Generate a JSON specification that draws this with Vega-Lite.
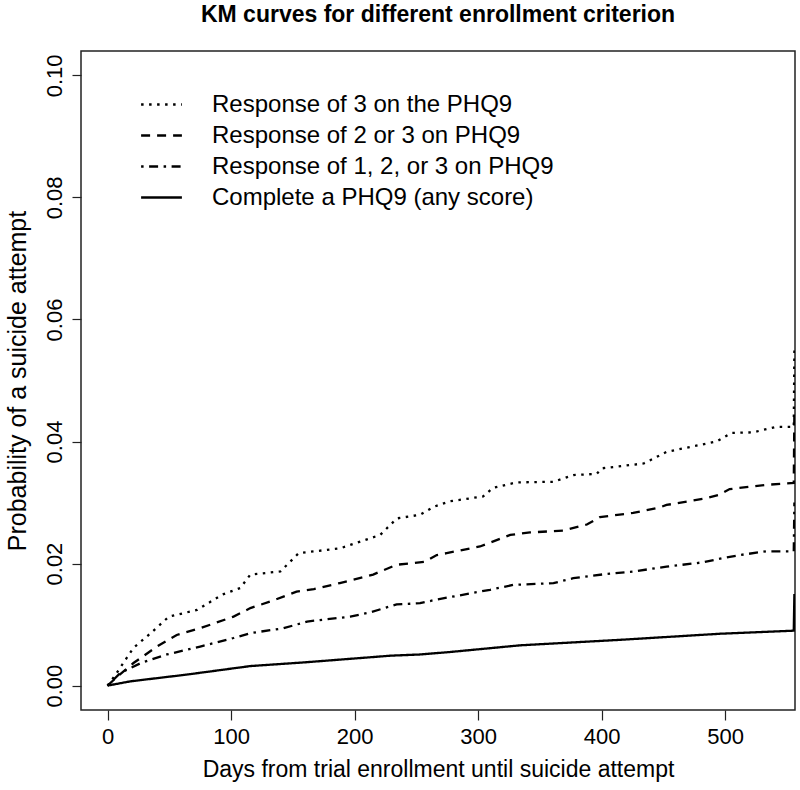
{
  "$schema": "https://vega.github.io/schema/vega-lite/v6.json",
  "width": 714,
  "height": 659,
  "autosize": {"type": "none"},
  "padding": {"left": 81, "top": 51, "right": 5, "bottom": 80},
  "background": "white",
  "title": {
    "text": "KM curves for different enrollment criterion",
    "fontSize": 23,
    "fontWeight": "bold",
    "font": "Liberation Sans",
    "anchor": "middle",
    "frame": "group",
    "offset": 24,
    "color": "black"
  },
  "config": {
    "view": {"stroke": "#222222", "strokeWidth": 1.5},
    "font": "Liberation Sans",
    "axis": {
      "grid": false,
      "domain": false,
      "tickColor": "#222222",
      "tickWidth": 1.2,
      "labelColor": "black",
      "titleColor": "black",
      "labelFont": "Liberation Sans",
      "titleFont": "Liberation Sans",
      "titleFontWeight": "normal"
    }
  },
  "data": {
    "values": [
      {"day": 0, "p": 0, "criterion": "Response of 3 on the PHQ9"},
      {"day": 6.5, "p": 0.0018, "criterion": "Response of 3 on the PHQ9"},
      {"day": 21, "p": 0.0062, "criterion": "Response of 3 on the PHQ9"},
      {"day": 35, "p": 0.0086, "criterion": "Response of 3 on the PHQ9"},
      {"day": 49.6, "p": 0.0113, "criterion": "Response of 3 on the PHQ9"},
      {"day": 72.5, "p": 0.0124, "criterion": "Response of 3 on the PHQ9"},
      {"day": 92.7, "p": 0.0149, "criterion": "Response of 3 on the PHQ9"},
      {"day": 107.5, "p": 0.016, "criterion": "Response of 3 on the PHQ9"},
      {"day": 115.6, "p": 0.0182, "criterion": "Response of 3 on the PHQ9"},
      {"day": 139.9, "p": 0.0187, "criterion": "Response of 3 on the PHQ9"},
      {"day": 154.7, "p": 0.0217, "criterion": "Response of 3 on the PHQ9"},
      {"day": 188.4, "p": 0.0225, "criterion": "Response of 3 on the PHQ9"},
      {"day": 220.7, "p": 0.0247, "criterion": "Response of 3 on the PHQ9"},
      {"day": 234.2, "p": 0.0274, "criterion": "Response of 3 on the PHQ9"},
      {"day": 253, "p": 0.028, "criterion": "Response of 3 on the PHQ9"},
      {"day": 264, "p": 0.0293, "criterion": "Response of 3 on the PHQ9"},
      {"day": 277, "p": 0.0302, "criterion": "Response of 3 on the PHQ9"},
      {"day": 304, "p": 0.031, "criterion": "Response of 3 on the PHQ9"},
      {"day": 312, "p": 0.0324, "criterion": "Response of 3 on the PHQ9"},
      {"day": 331, "p": 0.0333, "criterion": "Response of 3 on the PHQ9"},
      {"day": 361, "p": 0.0334, "criterion": "Response of 3 on the PHQ9"},
      {"day": 377, "p": 0.0345, "criterion": "Response of 3 on the PHQ9"},
      {"day": 396, "p": 0.0347, "criterion": "Response of 3 on the PHQ9"},
      {"day": 400, "p": 0.0356, "criterion": "Response of 3 on the PHQ9"},
      {"day": 434, "p": 0.0364, "criterion": "Response of 3 on the PHQ9"},
      {"day": 452.5, "p": 0.0383, "criterion": "Response of 3 on the PHQ9"},
      {"day": 493, "p": 0.04, "criterion": "Response of 3 on the PHQ9"},
      {"day": 505, "p": 0.0414, "criterion": "Response of 3 on the PHQ9"},
      {"day": 522.5, "p": 0.0415, "criterion": "Response of 3 on the PHQ9"},
      {"day": 541, "p": 0.0424, "criterion": "Response of 3 on the PHQ9"},
      {"day": 555.5, "p": 0.0424, "criterion": "Response of 3 on the PHQ9"},
      {"day": 556, "p": 0.055, "criterion": "Response of 3 on the PHQ9"},

      {"day": 0, "p": 0, "criterion": "Response of 2 or 3 on PHQ9"},
      {"day": 8, "p": 0.0015, "criterion": "Response of 2 or 3 on PHQ9"},
      {"day": 21, "p": 0.0037, "criterion": "Response of 2 or 3 on PHQ9"},
      {"day": 40, "p": 0.0064, "criterion": "Response of 2 or 3 on PHQ9"},
      {"day": 56, "p": 0.0083, "criterion": "Response of 2 or 3 on PHQ9"},
      {"day": 75, "p": 0.0094, "criterion": "Response of 2 or 3 on PHQ9"},
      {"day": 102, "p": 0.0113, "criterion": "Response of 2 or 3 on PHQ9"},
      {"day": 115.6, "p": 0.0127, "criterion": "Response of 2 or 3 on PHQ9"},
      {"day": 132, "p": 0.0138, "criterion": "Response of 2 or 3 on PHQ9"},
      {"day": 153, "p": 0.0154, "criterion": "Response of 2 or 3 on PHQ9"},
      {"day": 167, "p": 0.0158, "criterion": "Response of 2 or 3 on PHQ9"},
      {"day": 188, "p": 0.0168, "criterion": "Response of 2 or 3 on PHQ9"},
      {"day": 215, "p": 0.0182, "criterion": "Response of 2 or 3 on PHQ9"},
      {"day": 234, "p": 0.0198, "criterion": "Response of 2 or 3 on PHQ9"},
      {"day": 257, "p": 0.0203, "criterion": "Response of 2 or 3 on PHQ9"},
      {"day": 266.5, "p": 0.0214, "criterion": "Response of 2 or 3 on PHQ9"},
      {"day": 274.5, "p": 0.0217, "criterion": "Response of 2 or 3 on PHQ9"},
      {"day": 301.5, "p": 0.0228, "criterion": "Response of 2 or 3 on PHQ9"},
      {"day": 326, "p": 0.0247, "criterion": "Response of 2 or 3 on PHQ9"},
      {"day": 342, "p": 0.0251, "criterion": "Response of 2 or 3 on PHQ9"},
      {"day": 369, "p": 0.0254, "criterion": "Response of 2 or 3 on PHQ9"},
      {"day": 388, "p": 0.0264, "criterion": "Response of 2 or 3 on PHQ9"},
      {"day": 398.5, "p": 0.0276, "criterion": "Response of 2 or 3 on PHQ9"},
      {"day": 425.5, "p": 0.0283, "criterion": "Response of 2 or 3 on PHQ9"},
      {"day": 447, "p": 0.0292, "criterion": "Response of 2 or 3 on PHQ9"},
      {"day": 452.5, "p": 0.0296, "criterion": "Response of 2 or 3 on PHQ9"},
      {"day": 482, "p": 0.0306, "criterion": "Response of 2 or 3 on PHQ9"},
      {"day": 495.6, "p": 0.0313, "criterion": "Response of 2 or 3 on PHQ9"},
      {"day": 503.6, "p": 0.0322, "criterion": "Response of 2 or 3 on PHQ9"},
      {"day": 533, "p": 0.0329, "criterion": "Response of 2 or 3 on PHQ9"},
      {"day": 555.5, "p": 0.0332, "criterion": "Response of 2 or 3 on PHQ9"},
      {"day": 556, "p": 0.045, "criterion": "Response of 2 or 3 on PHQ9"},

      {"day": 0, "p": 0, "criterion": "Response of 1, 2, or 3 on PHQ9"},
      {"day": 10.5, "p": 0.0021, "criterion": "Response of 1, 2, or 3 on PHQ9"},
      {"day": 27, "p": 0.0037, "criterion": "Response of 1, 2, or 3 on PHQ9"},
      {"day": 48, "p": 0.0051, "criterion": "Response of 1, 2, or 3 on PHQ9"},
      {"day": 75, "p": 0.0064, "criterion": "Response of 1, 2, or 3 on PHQ9"},
      {"day": 102, "p": 0.0078, "criterion": "Response of 1, 2, or 3 on PHQ9"},
      {"day": 115.6, "p": 0.0086, "criterion": "Response of 1, 2, or 3 on PHQ9"},
      {"day": 142.5, "p": 0.0094, "criterion": "Response of 1, 2, or 3 on PHQ9"},
      {"day": 161.5, "p": 0.0105, "criterion": "Response of 1, 2, or 3 on PHQ9"},
      {"day": 196.5, "p": 0.0113, "criterion": "Response of 1, 2, or 3 on PHQ9"},
      {"day": 212.6, "p": 0.012, "criterion": "Response of 1, 2, or 3 on PHQ9"},
      {"day": 234, "p": 0.0133, "criterion": "Response of 1, 2, or 3 on PHQ9"},
      {"day": 253, "p": 0.0135, "criterion": "Response of 1, 2, or 3 on PHQ9"},
      {"day": 266.5, "p": 0.0141, "criterion": "Response of 1, 2, or 3 on PHQ9"},
      {"day": 309.6, "p": 0.0157, "criterion": "Response of 1, 2, or 3 on PHQ9"},
      {"day": 328.5, "p": 0.0165, "criterion": "Response of 1, 2, or 3 on PHQ9"},
      {"day": 361, "p": 0.0168, "criterion": "Response of 1, 2, or 3 on PHQ9"},
      {"day": 377, "p": 0.0176, "criterion": "Response of 1, 2, or 3 on PHQ9"},
      {"day": 404, "p": 0.0183, "criterion": "Response of 1, 2, or 3 on PHQ9"},
      {"day": 425.5, "p": 0.0187, "criterion": "Response of 1, 2, or 3 on PHQ9"},
      {"day": 452.5, "p": 0.0195, "criterion": "Response of 1, 2, or 3 on PHQ9"},
      {"day": 482, "p": 0.0202, "criterion": "Response of 1, 2, or 3 on PHQ9"},
      {"day": 498, "p": 0.0209, "criterion": "Response of 1, 2, or 3 on PHQ9"},
      {"day": 512, "p": 0.0214, "criterion": "Response of 1, 2, or 3 on PHQ9"},
      {"day": 533, "p": 0.022, "criterion": "Response of 1, 2, or 3 on PHQ9"},
      {"day": 555.5, "p": 0.022, "criterion": "Response of 1, 2, or 3 on PHQ9"},
      {"day": 556, "p": 0.03, "criterion": "Response of 1, 2, or 3 on PHQ9"},

      {"day": 0, "p": 0, "criterion": "Complete a PHQ9 (any score)"},
      {"day": 18.6, "p": 0.0007, "criterion": "Complete a PHQ9 (any score)"},
      {"day": 64, "p": 0.0018, "criterion": "Complete a PHQ9 (any score)"},
      {"day": 115.6, "p": 0.0032, "criterion": "Complete a PHQ9 (any score)"},
      {"day": 159, "p": 0.0038, "criterion": "Complete a PHQ9 (any score)"},
      {"day": 229, "p": 0.0049, "criterion": "Complete a PHQ9 (any score)"},
      {"day": 253, "p": 0.0051, "criterion": "Complete a PHQ9 (any score)"},
      {"day": 277, "p": 0.0055, "criterion": "Complete a PHQ9 (any score)"},
      {"day": 334, "p": 0.0066, "criterion": "Complete a PHQ9 (any score)"},
      {"day": 415, "p": 0.0075, "criterion": "Complete a PHQ9 (any score)"},
      {"day": 496, "p": 0.0085, "criterion": "Complete a PHQ9 (any score)"},
      {"day": 555.5, "p": 0.009, "criterion": "Complete a PHQ9 (any score)"},
      {"day": 556, "p": 0.015, "criterion": "Complete a PHQ9 (any score)"}
    ]
  },
  "mark": {"type": "line", "color": "black", "strokeWidth": 2.3, "strokeCap": "butt", "clip": true},
  "encoding": {
    "x": {
      "field": "day",
      "type": "quantitative",
      "scale": {"domain": [-21.5, 556.5], "nice": false, "zero": false},
      "axis": {
        "values": [0, 100, 200, 300, 400, 500],
        "title": "Days from trial enrollment until suicide attempt",
        "labelFontSize": 22,
        "titleFontSize": 23,
        "tickSize": 10,
        "labelPadding": 6,
        "titlePadding": 11,
        "labelFlush": false
      }
    },
    "y": {
      "field": "p",
      "type": "quantitative",
      "scale": {"domain": [-0.004, 0.104], "nice": false, "zero": false},
      "axis": {
        "values": [0, 0.02, 0.04, 0.06, 0.08, 0.1],
        "format": ".2f",
        "title": "Probability of a suicide attempt",
        "labelFontSize": 22,
        "titleFontSize": 25,
        "tickSize": 9,
        "labelAngle": -90,
        "labelAlign": "center",
        "labelBaseline": "bottom",
        "labelPadding": 6,
        "titlePadding": 13,
        "labelFlush": false
      }
    },
    "strokeDash": {
      "field": "criterion",
      "type": "nominal",
      "scale": {
        "domain": ["Response of 3 on the PHQ9", "Response of 2 or 3 on PHQ9", "Response of 1, 2, or 3 on PHQ9", "Complete a PHQ9 (any score)"],
        "range": [[2.5, 5.5], [9, 7], [2.5, 5.5, 9, 5.5], [1, 0]]
      },
      "legend": {
        "title": null,
        "orient": "none",
        "legendX": 67,
        "legendY": 40,
        "padding": 0,
        "symbolType": "M-1.7,0H1.7",
        "symbolSize": 576,
        "symbolStrokeWidth": 2.3,
        "symbolStrokeColor": "black",
        "labelFontSize": 24,
        "labelColor": "black",
        "labelFont": "Liberation Sans",
        "labelOffset": 37,
        "rowPadding": 5,
        "labelLimit": 600
      }
    }
  }
}
